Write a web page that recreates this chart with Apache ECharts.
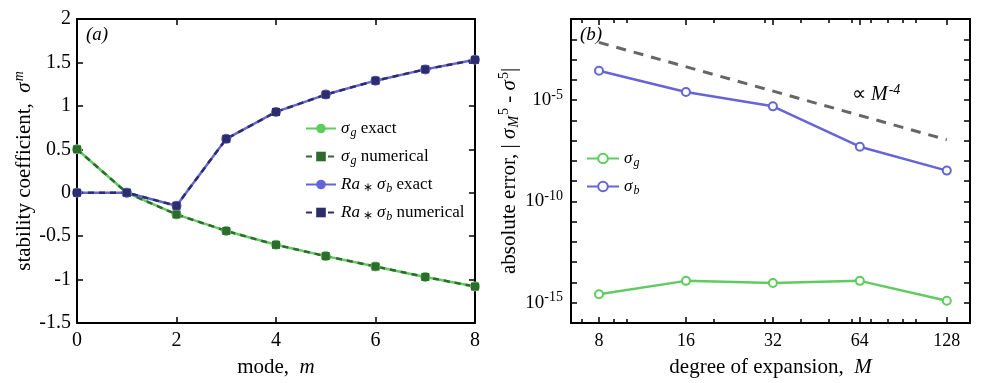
<!DOCTYPE html>
<html>
<head>
<meta charset="utf-8">
<script src="https://cdn.jsdelivr.net/npm/echarts@6/dist/echarts.min.js"></script>
<style>
  html, body { margin: 0; padding: 0; background: #fff; }
  #chart { width: 996px; height: 383px; }
</style>
</head>
<body>
<div id="chart"></div>
<script>
// panel (a): stability coefficient vs mode
const modes = [0, 1, 2, 3, 4, 5, 6, 7, 8];
const sigmaG = [0.5, 0, -0.25, -0.44, -0.6, -0.73, -0.85, -0.97, -1.08];
const sigmaB = [0, 0, -0.15, 0.62, 0.93, 1.13, 1.29, 1.42, 1.53];

// panel (b): absolute error vs degree of expansion
const degrees = [8, 16, 32, 64, 128];
const errG = [2.6e-15, 1.2e-14, 9.5e-15, 1.2e-14, 1.25e-15];
const errB = [2.8e-4, 2.5e-5, 4.9e-6, 5e-8, 3.3e-9];
const slopeX = [8, 128];
const slopeY = [7e-3, 1.1e-7];

const xMinorTicks = [7, 9, 10, 20, 30, 40, 50, 60, 70, 80, 90, 100];
const yDecades = [1e-16, 1e-15, 1e-14, 1e-13, 1e-12, 1e-11, 1e-10, 1e-9, 1e-8, 1e-7, 1e-6, 1e-5, 1e-4, 1e-3, 1e-2, 1e-1];
const yLabelTicks = [1e-15, 1e-10, 1e-5];

const FONT = "Liberation Serif";
const GREEN = "#5fcc5f";
const DKGREEN = "#2f6a2f";
const BLUE = "#6565d9";
const NAVY = "#2d2d6b";

const rich = {
  i: { fontFamily: FONT, fontStyle: "italic", fontSize: 21, color: "#000" },
  sub: { fontFamily: FONT, fontStyle: "italic", fontSize: 14, color: "#000", padding: [10, 0, 0, 1] },
  sup: { fontFamily: FONT, fontStyle: "italic", fontSize: 14, color: "#000", padding: [0, 0, 10, 1] },
  supn: { fontFamily: FONT, fontSize: 14, color: "#000", padding: [0, 0, 10, 1] },
};
const legRich = {
  i: { fontFamily: FONT, fontStyle: "italic", fontSize: 17, color: "#000" },
  sub: { fontFamily: FONT, fontStyle: "italic", fontSize: 12, color: "#000", padding: [9, 0, 0, 1] },
  st: { fontFamily: FONT, fontSize: 12, color: "#000", padding: [7, 4, 0, 3] },
};

const tick = { inside: true, length: 6, lineStyle: { color: "#000", width: 1.5 } };
const minorTick = { show: true, inside: true, length: 4, lineStyle: { color: "#000", width: 1.5 }, customValues: xMinorTicks };
const line = { show: true, onZero: false, lineStyle: { color: "#000", width: 2 } };
const tickLabel = { fontFamily: FONT, fontSize: 18, color: "#000", margin: 9 };
const nameStyle = { fontFamily: FONT, fontSize: 21, color: "#000", rich: rich };

const legendNames = {
  "g exact": "{i|σ}{sub|g} exact",
  "g numerical": "{i|σ}{sub|g} numerical",
  "b exact": "{i|Ra}{st|∗}{i|σ}{sub|b} exact",
  "b numerical": "{i|Ra}{st|∗}{i|σ}{sub|b} numerical",
  "g": "{i|σ}{sub|g}",
  "b": "{i|σ}{sub|b}",
};

const chart = echarts.init(document.getElementById("chart"));

const option = {
  animation: false,
  backgroundColor: "#fff",
  grid: [
    { left: 77, top: 19, width: 398, height: 306 },
    { left: 571, top: 19, width: 399, height: 306 },
  ],
  legend: [
    {
      data: ["g exact", "g numerical", "b exact", "b numerical"],
      orient: "vertical",
      left: 300,
      top: 115,
      itemWidth: 30,
      itemHeight: 12,
      itemGap: 9,
      formatter: (n) => legendNames[n],
      textStyle: { fontFamily: FONT, fontSize: 17, color: "#000", rich: legRich },
    },
    {
      data: ["g", "b"],
      orient: "vertical",
      left: 581,
      top: 145,
      itemWidth: 32,
      itemHeight: 12,
      itemGap: 9,
      formatter: (n) => legendNames[n],
      textStyle: { fontFamily: FONT, fontSize: 17, color: "#000", rich: legRich },
    },
  ],
  xAxis: [
    {
      gridIndex: 0, type: "value", min: 0, max: 8, interval: 2, position: "bottom",
      axisLine: line, axisTick: tick, axisLabel: Object.assign({}, tickLabel, { fontSize: 20, margin: 8 }),
      splitLine: { show: false },
      name: "mode,  {i|m}", nameLocation: "middle", nameGap: 34, nameTextStyle: nameStyle,
    },
    {
      gridIndex: 0, type: "value", min: 0, max: 8, interval: 2, position: "top",
      axisLine: line, axisTick: tick, axisLabel: { show: false }, splitLine: { show: false },
    },
    {
      gridIndex: 1, type: "log", logBase: 2, min: 6.4, max: 154, position: "bottom",
      axisLine: line,
      axisTick: Object.assign({}, tick, { customValues: degrees }),
      axisLabel: Object.assign({}, tickLabel, { customValues: degrees, formatter: (v) => String(Math.round(v)) }),
      splitLine: { show: false }, minorTick: { show: false },
      name: "degree of expansion,  {i|M}", nameLocation: "middle", nameGap: 34, nameTextStyle: nameStyle,
    },
    {
      gridIndex: 1, type: "log", logBase: 2, min: 6.4, max: 154, position: "bottom",
      axisLine: { show: false }, axisTick: minorTick,
      axisLabel: { show: false }, splitLine: { show: false },
    },
    {
      gridIndex: 1, type: "log", logBase: 2, min: 6.4, max: 154, position: "top",
      axisLine: line,
      axisTick: Object.assign({}, tick, { customValues: degrees }),
      axisLabel: { show: false }, splitLine: { show: false },
    },
    {
      gridIndex: 1, type: "log", logBase: 2, min: 6.4, max: 154, position: "top",
      axisLine: { show: false }, axisTick: minorTick,
      axisLabel: { show: false }, splitLine: { show: false },
    },
  ],
  yAxis: [
    {
      gridIndex: 0, type: "value", min: -1.5, max: 2, interval: 0.5, position: "left",
      axisLine: line, axisTick: tick, axisLabel: Object.assign({}, tickLabel, { fontSize: 20, margin: 6 }),
      splitLine: { show: false },
      name: "stability coefficient,  {i|σ}{sup|m}", nameLocation: "middle", nameGap: 41, nameTextStyle: nameStyle,
    },
    {
      gridIndex: 0, type: "value", min: -1.5, max: 2, interval: 0.5, position: "right",
      axisLine: line, axisTick: tick, axisLabel: { show: false }, splitLine: { show: false },
    },
    {
      gridIndex: 1, type: "log", logBase: 10, min: 1e-16, max: 1e-1, position: "left",
      axisLine: line,
      axisTick: Object.assign({}, tick, { customValues: yDecades }),
      axisLabel: Object.assign({}, tickLabel, {
        fontSize: 19,
        margin: 8,
        customValues: yLabelTicks,
        formatter: (v) => "10{supn|" + Math.round(Math.log10(v)) + "}",
        rich: { supn: { fontFamily: FONT, fontSize: 14, color: "#000", padding: [0, 0, 10, 0] } },
      }),
      splitLine: { show: false }, minorTick: { show: false },
      name: "absolute error, | {i|σ}{sub|M}{supn|5} - {i|σ}{supn|5}|", nameLocation: "middle", nameGap: 50,
      nameTextStyle: nameStyle,
    },
    {
      gridIndex: 1, type: "log", logBase: 10, min: 1e-16, max: 1e-1, position: "right",
      axisLine: line,
      axisTick: Object.assign({}, tick, { customValues: yDecades }),
      axisLabel: { show: false }, splitLine: { show: false },
    },
  ],
  series: [
    {
      name: "g exact", type: "line", xAxisIndex: 0, yAxisIndex: 0,
      data: modes.map((m, i) => [m, sigmaG[i]]),
      color: GREEN, lineStyle: { width: 2.5, color: GREEN },
      symbol: "circle", symbolSize: 10, itemStyle: { color: GREEN },
    },
    {
      name: "g numerical", type: "line", xAxisIndex: 0, yAxisIndex: 0,
      data: modes.map((m, i) => [m, sigmaG[i]]),
      color: DKGREEN, lineStyle: { width: 2.5, color: DKGREEN, type: [6, 5] },
      symbol: "rect", symbolSize: 8, itemStyle: { color: DKGREEN },
    },
    {
      name: "b exact", type: "line", xAxisIndex: 0, yAxisIndex: 0,
      data: modes.map((m, i) => [m, sigmaB[i]]),
      color: BLUE, lineStyle: { width: 2.5, color: BLUE },
      symbol: "circle", symbolSize: 10, itemStyle: { color: BLUE },
    },
    {
      name: "b numerical", type: "line", xAxisIndex: 0, yAxisIndex: 0,
      data: modes.map((m, i) => [m, sigmaB[i]]),
      color: NAVY, lineStyle: { width: 2.5, color: NAVY, type: [6, 5] },
      symbol: "rect", symbolSize: 8, itemStyle: { color: NAVY },
    },
    {
      name: "slope", type: "line", xAxisIndex: 2, yAxisIndex: 2,
      data: slopeX.map((x, i) => [x, slopeY[i]]),
      symbol: "none", lineStyle: { width: 3, color: "#666", type: [10, 8] },
    },
    {
      name: "g", type: "line", xAxisIndex: 2, yAxisIndex: 2,
      data: degrees.map((d, i) => [d, errG[i]]),
      color: GREEN, lineStyle: { width: 2.5, color: GREEN },
      symbol: "emptyCircle", symbolSize: 8, itemStyle: { color: GREEN, borderWidth: 2.5 },
    },
    {
      name: "b", type: "line", xAxisIndex: 2, yAxisIndex: 2,
      data: degrees.map((d, i) => [d, errB[i]]),
      color: BLUE, lineStyle: { width: 2.5, color: BLUE },
      symbol: "emptyCircle", symbolSize: 8, itemStyle: { color: BLUE, borderWidth: 2.5 },
    },
  ],
  graphic: [
    { type: "text", left: 86, top: 25, style: { text: "(a)", font: "italic 19px " + FONT, fill: "#000" } },
    { type: "text", left: 580, top: 25, style: { text: "(b)", font: "italic 19px " + FONT, fill: "#000" } },
    {
      type: "text", left: 852, top: 83,
      style: {
        text: "∝ {i|M}{supn|-4}", font: "20px " + FONT, fill: "#000",
        rich: {
          i: { fontFamily: FONT, fontStyle: "italic", fontSize: 20, fill: "#000" },
          supn: { fontFamily: FONT, fontStyle: "italic", fontSize: 14, fill: "#000", padding: [0, 0, 9, 1] },
        },
      },
    },
  ],
};

chart.setOption(option);
</script>
</body>
</html>
